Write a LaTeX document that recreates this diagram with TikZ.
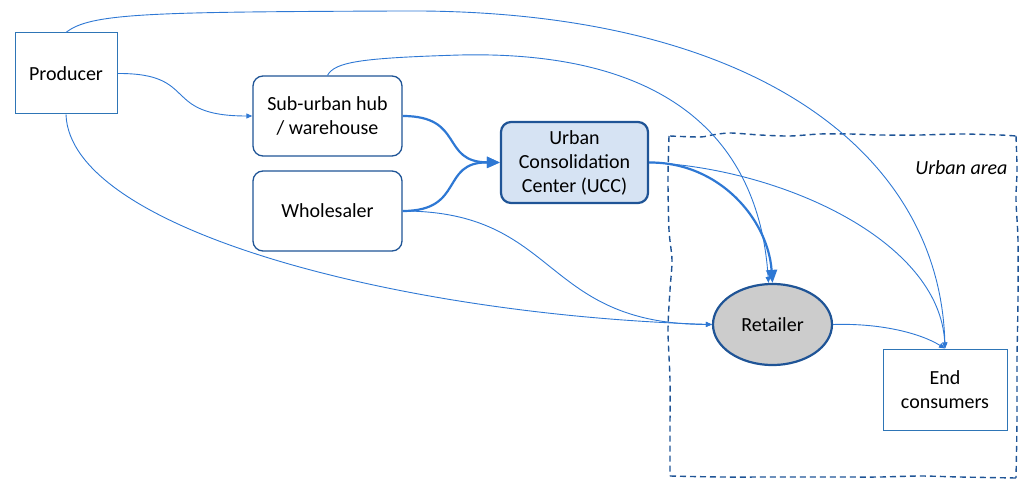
\documentclass[tikz,border=0pt]{standalone}
\usepackage{fontspec}
\setmainfont{Carlito}
\usetikzlibrary{arrows.meta,shapes.geometric}
\definecolor{boxblue}{RGB}{46,117,182}
\definecolor{darkblue}{RGB}{31,84,150}
\definecolor{lineblue}{RGB}{46,120,212}
\definecolor{uccfill}{RGB}{214,227,243}
\definecolor{retfill}{RGB}{204,204,204}
\tikzset{
  plainbox/.style={draw=boxblue, line width=1pt, minimum width=102pt, minimum height=81pt, align=center, font=\fontsize{20}{24}\selectfont, inner sep=2pt},
  roundbox/.style={draw=darkblue, line width=1.3pt, rounded corners=10pt, minimum width=149pt, minimum height=80pt, align=center, font=\fontsize{20}{24}\selectfont, inner sep=2pt},
  uccbox/.style={draw=darkblue, line width=2.2pt, fill=uccfill, rounded corners=10pt, minimum width=147pt, minimum height=81pt, align=center, font=\fontsize{20}{24}\selectfont, inner sep=2pt},
  retnode/.style={ellipse, draw=darkblue, line width=2.2pt, fill=retfill, minimum width=119pt, minimum height=81pt, font=\fontsize{20}{24}\selectfont, inner sep=0pt},
  thin/.style={draw=lineblue, line width=0.9pt, -{Triangle[length=6pt,width=5pt]}},
  thick/.style={draw=lineblue, line width=2.2pt, -{Triangle[length=13pt,width=11pt]}},
  urban/.style={draw=darkblue, line width=1.4pt, dash pattern=on 6pt off 4pt}
}
\begin{document}
\begin{tikzpicture}[x=1pt,y=-1pt]
\useasboundingbox (0,0) rectangle (1034,481);
% urban area
\draw[urban] plot[smooth, tension=0.5] coordinates {(670,136) (700,137) (712,135) (730,133) (760,135) (790,136) (820,134) (850,134) (880,135) (920,135) (960,134) (1000,135) (1016,136)};
\draw[urban] plot[smooth, tension=0.5] coordinates {(1016,136) (1017,170) (1016,200) (1018,240) (1018,300) (1017,360) (1017,420) (1016,478)};
\draw[urban] plot[smooth, tension=0.5] coordinates {(670,476) (720,477) (780,477) (840,477) (880,477) (920,476) (960,477) (1016,478)};
\draw[urban] plot[smooth, tension=0.5] coordinates {(669,136) (668,180) (669,230) (672,260) (670,290) (668,330) (670,380) (670,430) (670,476)};
\node[font=\fontsize{20}{24}\selectfont\itshape, anchor=east] (ua) at (1011,168) {Urban area};
% nodes
\node[plainbox] (prod) at (66,73.5) {Producer};
\node[roundbox] (sub) at (327.5,116) {Sub-urban hub\\/ warehouse};
\node[roundbox] (whole) at (327.5,211) {Wholesaler};
\node[uccbox] (ucc) at (574.5,162.5) {Urban\\Consolidation\\Center (UCC)};
\node[retnode] (ret) at (772.5,324.5) {Retailer};
\node[plainbox, minimum width=124pt] (end) at (945,389.5) {End\\consumers};
% connectors
\draw[thin] (prod.north) .. controls (90,13) and (150,12) .. (400,11) .. controls (750,8) and (940,150) .. (end.north);
\draw[thin] (sub.north) .. controls (335,62) and (360,58) .. (460,55) .. controls (680,50) and (760,150) .. ([xshift=-4pt]ret.north);
\draw[thin] (prod.east) .. controls (200,73) and (160,116) .. (sub.west);
\draw[thick] (sub.east) .. controls (465,116) and (440,162) .. (ucc.west);
\draw[thick] (whole.east) .. controls (465,211) and (440,162) .. (ucc.west);
\draw[thin] (whole.east) .. controls (560,211) and (540,324) .. (ret.west);
\draw[thin] (prod.south) .. controls (70,230) and (400,315) .. (ret.west);
\draw[thick] (ucc.east) .. controls (720,162) and (768,220) .. (ret.north);
\draw[thin] (ucc.east) .. controls (780,168) and (940,240) .. (end.north);
\draw[thin] (ret.east) .. controls (880,323) and (920,333) .. (end.north);
\end{tikzpicture}
\end{document}
